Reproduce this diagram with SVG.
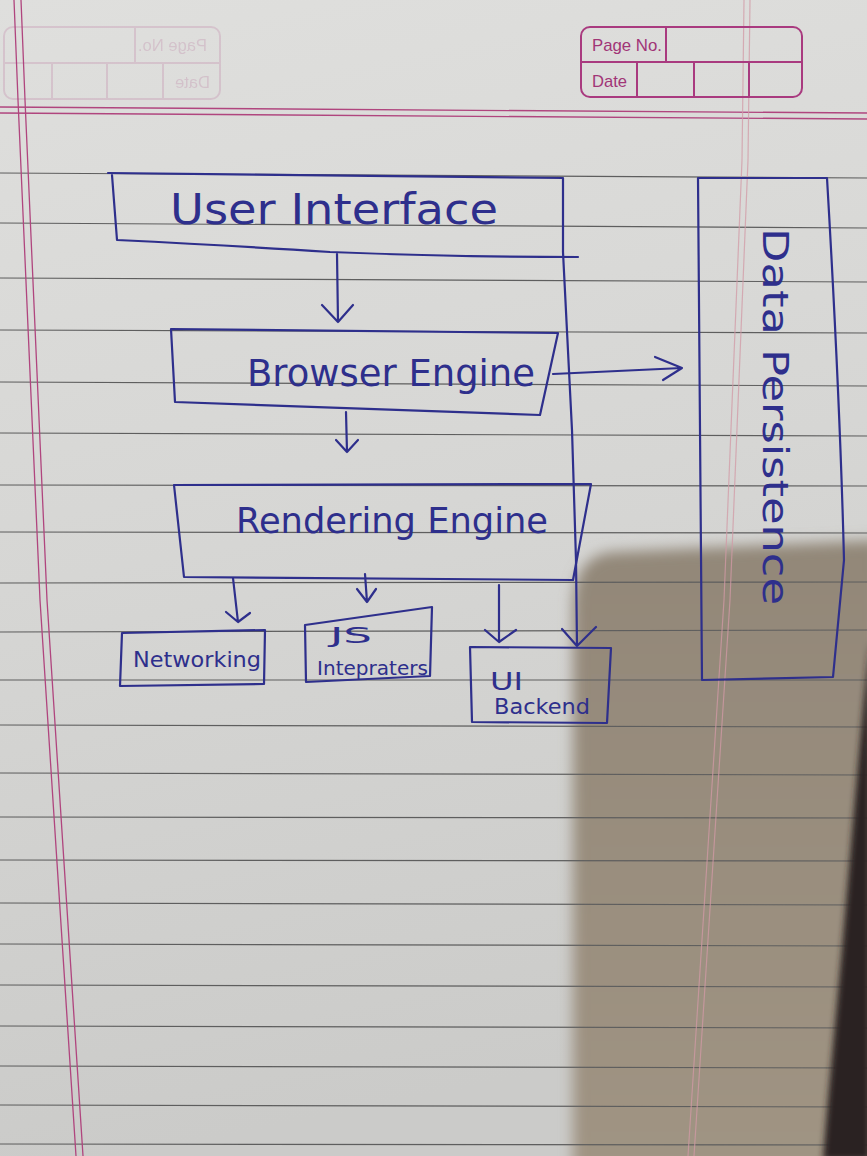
<svg xmlns="http://www.w3.org/2000/svg" width="867" height="1156" viewBox="0 0 867 1156">
<defs>
<linearGradient id="paper" x1="0" y1="0" x2="0.15" y2="1">
<stop offset="0" stop-color="#dfdfdd"/>
<stop offset="0.5" stop-color="#d6d6d4"/>
<stop offset="1" stop-color="#cbcbc9"/>
</linearGradient>
<linearGradient id="shade" x1="0" y1="0" x2="0" y2="1">
<stop offset="0" stop-color="#928778"/>
<stop offset="1" stop-color="#a09483"/>
</linearGradient>
<filter id="soft" x="-0.2" y="-0.2" width="1.4" height="1.4"><feGaussianBlur stdDeviation="7"/></filter>
<filter id="soft2" x="-0.2" y="-0.2" width="1.4" height="1.4"><feGaussianBlur stdDeviation="3"/></filter>
<style>
.rule{stroke:#5e5e5e;stroke-width:1.2;fill:none}
.margin{stroke:#b0457e;stroke-width:1.3;fill:none}
.pink{stroke:#d29aa6;stroke-width:1.2;fill:none;opacity:0.75}
.hdr{stroke:#a93a7f;stroke-width:2;fill:none}
.hdrt{font-family:"Liberation Sans",Arial,sans-serif;font-size:17px;fill:#a13577}
.ink{stroke:#2e2f8c;stroke-width:2.2;fill:none;stroke-linecap:round;stroke-linejoin:round}
.lbl{font-family:"DejaVu Sans","Liberation Sans",sans-serif;fill:#2e2f8c;font-weight:normal}
</style>
</defs>

<!-- paper -->
<rect x="0" y="0" width="867" height="1156" fill="url(#paper)"/>
<path d="M612,552 L880,540 L880,1170 L573,1170 L573,610 Q573,556 612,552 Z" fill="url(#shade)" filter="url(#soft)"/>

<!-- ruled lines -->
<g id="ruling">
<line class="rule" x1="0" y1="173" x2="867" y2="178"/>
<line class="rule" x1="0" y1="223" x2="867" y2="228"/>
<line class="rule" x1="0" y1="278" x2="867" y2="282"/>
<line class="rule" x1="0" y1="330" x2="867" y2="333"/>
<line class="rule" x1="0" y1="382" x2="867" y2="386"/>
<line class="rule" x1="0" y1="433" x2="867" y2="436"/>
<line class="rule" x1="0" y1="485" x2="867" y2="486"/>
<line class="rule" x1="0" y1="532" x2="867" y2="533"/>
<line class="rule" x1="0" y1="583" x2="867" y2="582"/>
<line class="rule" x1="0" y1="632" x2="867" y2="630"/>
<line class="rule" x1="0" y1="680" x2="867" y2="680"/>
<line class="rule" x1="0" y1="725" x2="867" y2="727"/>
<line class="rule" x1="0" y1="773" x2="867" y2="775"/>
<line class="rule" x1="0" y1="817" x2="867" y2="818"/>
<line class="rule" x1="0" y1="860" x2="867" y2="861"/>
<line class="rule" x1="0" y1="903" x2="867" y2="905"/>
<line class="rule" x1="0" y1="944" x2="867" y2="946"/>
<line class="rule" x1="0" y1="985" x2="867" y2="987"/>
<line class="rule" x1="0" y1="1026" x2="867" y2="1028"/>
<line class="rule" x1="0" y1="1066" x2="867" y2="1068"/>
<line class="rule" x1="0" y1="1105" x2="867" y2="1107"/>
<line class="rule" x1="0" y1="1144" x2="867" y2="1145"/>
</g>

<!-- margins -->
<path class="margin" d="M14,0 L18,100 L40,600 Q58,880 76,1156"/>
<path class="margin" d="M21,0 L25,100 L47,600 Q65,880 83,1156"/>
<line class="margin" x1="0" y1="107" x2="867" y2="113"/>
<line class="margin" x1="0" y1="113" x2="867" y2="119"/>
<path class="pink" d="M744,0 L742,160 L724,600 L688,1156"/>
<path class="pink" d="M750,0 L748,160 L730,600 L694,1156"/>

<!-- page edge / background -->
<path d="M870,640 L864,700 L855,800 L842,950 L828,1100 L823,1160 L870,1160 Z" fill="#2b2420" filter="url(#soft2)"/>

<!-- header box -->
<g id="header">
<rect class="hdr" x="581" y="27" width="221" height="70" rx="9"/>
<line class="hdr" x1="581" y1="62" x2="802" y2="62"/>
<line class="hdr" x1="666" y1="27" x2="666" y2="62"/>
<line class="hdr" x1="637" y1="62" x2="637" y2="97"/>
<line class="hdr" x1="694" y1="62" x2="694" y2="97"/>
<line class="hdr" x1="749" y1="62" x2="749" y2="97"/>
<text class="hdrt" x="592" y="51" textLength="70" lengthAdjust="spacingAndGlyphs">Page No.</text>
<text class="hdrt" x="592" y="87" textLength="35" lengthAdjust="spacingAndGlyphs">Date</text>
</g>

<!-- faint show-through of the reverse side -->
<g id="show-through" transform="translate(220,0) scale(-1,1)" opacity="0.16">
<rect class="hdr" x="0" y="27" width="216" height="72" rx="9"/>
<line class="hdr" x1="0" y1="63" x2="216" y2="63"/>
<line class="hdr" x1="85" y1="27" x2="85" y2="63"/>
<line class="hdr" x1="57" y1="63" x2="57" y2="99"/>
<line class="hdr" x1="113" y1="63" x2="113" y2="99"/>
<line class="hdr" x1="168" y1="63" x2="168" y2="99"/>
<text class="hdrt" x="13" y="51" textLength="69" lengthAdjust="spacingAndGlyphs">Page No.</text>
<text class="hdrt" x="10" y="88" textLength="35" lengthAdjust="spacingAndGlyphs">Date</text>
</g>

<!-- nodes -->
<g id="user-interface">
<path class="ink" d="M108,173 L563,178 M112,175 L117,240 Q240,246 330,252 Q460,257 578,257 M563,178 L563,252"/>
<text class="lbl" x="170" y="224" font-size="42" textLength="328" lengthAdjust="spacingAndGlyphs">User Interface</text>
</g>

<g id="browser-engine">
<path class="ink" d="M171,329 L558,333 L540,415 L175,402 Z"/>
<text class="lbl" x="247" y="386" font-size="38" textLength="288" lengthAdjust="spacingAndGlyphs">Browser Engine</text>
</g>

<g id="rendering-engine">
<path class="ink" d="M174,485 L591,484 L573,580 L184,577 Z"/>
<text class="lbl" x="236" y="533" font-size="36" textLength="312" lengthAdjust="spacingAndGlyphs">Rendering Engine</text>
</g>

<g id="networking">
<path class="ink" d="M122,633 L265,630 L264,684 L120,686 Z"/>
<text class="lbl" x="133" y="667" font-size="22" textLength="128" lengthAdjust="spacingAndGlyphs">Networking</text>
</g>

<g id="js-interpreters">
<path class="ink" d="M305,625 L432,607 L430,676 L306,682 Z"/>
<text class="lbl" x="330" y="643" font-size="22" textLength="42" lengthAdjust="spacingAndGlyphs">JS</text>
<text class="lbl" x="317" y="675" font-size="19" textLength="111" lengthAdjust="spacingAndGlyphs">Intepraters</text>
</g>

<g id="ui-backend">
<path class="ink" d="M470,647 L611,648 L607,723 L472,722 Z"/>
<text class="lbl" x="490" y="690" font-size="24" textLength="33" lengthAdjust="spacingAndGlyphs">UI</text>
<text class="lbl" x="494" y="714" font-size="22" textLength="96" lengthAdjust="spacingAndGlyphs">Backend</text>
</g>

<g id="data-persistence">
<path class="ink" d="M698,178 L827,178 Q840,400 844,560 L833,677 L702,680 Z"/>
<text class="lbl" font-size="36" textLength="377" lengthAdjust="spacingAndGlyphs" transform="translate(763,228) rotate(90)">Data Persistence</text>
</g>

<!-- connectors -->
<g id="connectors">
<path class="ink" d="M337,254 L338,322 M322,305 L338,322 L353,305"/>
<path class="ink" d="M346,412 L347,452 M336,440 L347,452 L358,440"/>
<path class="ink" d="M553,374 L682,368 M655,357 L682,368 L663,380"/>
<path class="ink" d="M233,578 L238,622 M226,612 L238,622 L250,613"/>
<path class="ink" d="M365,574 L367,602 M357,589 L367,602 L376,589"/>
<path class="ink" d="M499,585 L499,642 M485,630 L499,642 L516,630"/>
<path class="ink" d="M563,252 L572,430 L576,560 L577,646 M562,629 L577,646 L596,627"/>
</g>
</svg>
